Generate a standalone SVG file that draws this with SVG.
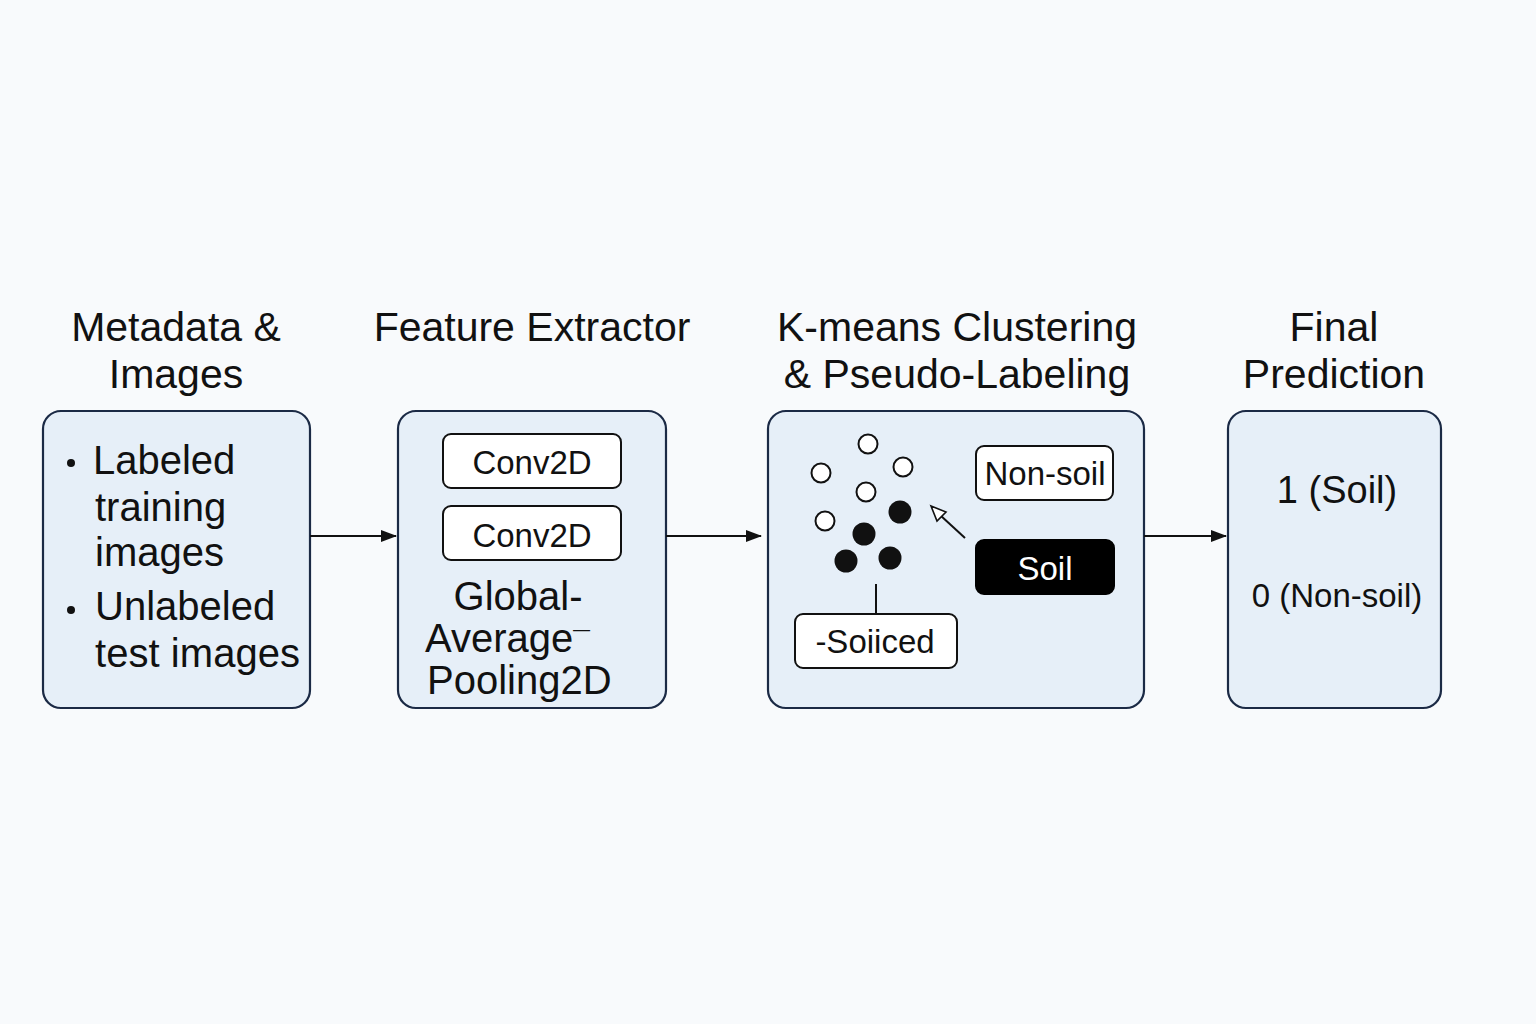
<svg xmlns="http://www.w3.org/2000/svg" width="1536" height="1024" viewBox="0 0 1536 1024">
<defs>
<marker id="arr" markerWidth="16" markerHeight="12" refX="15" refY="6" orient="auto" markerUnits="userSpaceOnUse">
<path d="M0,0 L16,6 L0,12 Z" fill="#111"/>
</marker>
<style>
.box{fill:#e6eff8;stroke:#1b2a45;stroke-width:2.2}
.sub{fill:#fff;stroke:#111;stroke-width:2}
.t{font-family:"Liberation Sans",Arial,sans-serif;fill:#111}
.title{font-size:41px;text-anchor:middle}
.body{font-size:40px}
.small{font-size:33px;text-anchor:middle}
.conn{stroke:#111;stroke-width:2;fill:none}
</style>
</defs>
<rect width="1536" height="1024" fill="#f8fafc"/>

<g id="titles">
<text class="t title" x="176" y="341">Metadata &amp;</text>
<text class="t title" x="176" y="388">Images</text>
<text class="t title" x="532" y="341">Feature Extractor</text>
<text class="t title" x="957" y="341">K-means Clustering</text>
<text class="t title" x="957" y="388">&amp; Pseudo-Labeling</text>
<text class="t title" x="1334" y="341">Final</text>
<text class="t title" x="1334" y="388">Prediction</text>
</g>

<g id="node-metadata">
<rect class="box" x="43" y="411" width="267" height="297" rx="18"/>
<circle cx="71" cy="463" r="4" fill="#111"/>
<circle cx="71" cy="610" r="4" fill="#111"/>
<text class="t body" x="93" y="474">Labeled</text>
<text class="t body" x="95" y="521">training</text>
<text class="t body" x="95" y="566">images</text>
<text class="t body" x="95" y="620">Unlabeled</text>
<text class="t body" x="95" y="667" textLength="205">test images</text>
</g>

<g id="node-feature">
<rect class="box" x="398" y="411" width="268" height="297" rx="18"/>
<rect class="sub" x="443" y="434" width="178" height="54" rx="8"/>
<text class="t small" x="532" y="474">Conv2D</text>
<rect class="sub" x="443" y="506" width="178" height="54" rx="8"/>
<text class="t small" x="532" y="547">Conv2D</text>
<text class="t body" x="518" y="610" text-anchor="middle">Global-</text>
<text class="t body" x="425" y="652">Average<tspan font-size="30">¯</tspan></text>
<text class="t body" x="427" y="694">Pooling2D</text>
</g>

<g id="node-kmeans">
<rect class="box" x="768" y="411" width="376" height="297" rx="18"/>
<g fill="#fff" stroke="#111" stroke-width="2">
<circle cx="868" cy="444" r="9.5"/>
<circle cx="821" cy="473" r="9.5"/>
<circle cx="903" cy="467" r="9.5"/>
<circle cx="866" cy="492" r="9.5"/>
<circle cx="825" cy="521" r="9.5"/>
</g>
<g fill="#111">
<circle cx="900" cy="512" r="11.5"/>
<circle cx="864" cy="534" r="11.5"/>
<circle cx="846" cy="561" r="11.5"/>
<circle cx="890" cy="558" r="11.5"/>
</g>
<rect class="sub" x="976" y="446" width="137" height="54" rx="8"/>
<text class="t small" x="1045" y="485">Non-soil</text>
<rect x="976" y="540" width="138" height="54" rx="8" fill="#000" stroke="#000" stroke-width="2"/>
<text class="t small" x="1045" y="580" style="fill:#fff">Soil</text>
<rect class="sub" x="795" y="614" width="162" height="54" rx="8"/>
<text class="t small" x="875" y="653">-Soiiced</text>
</g>

<g id="node-final">
<rect class="box" x="1228" y="411" width="213" height="297" rx="18"/>
<text class="t" x="1337" y="503" font-size="38" text-anchor="middle">1 (Soil)</text>
<text class="t small" x="1337" y="607">0 (Non-soil)</text>
</g>

<g id="connectors">
<line class="conn" x1="310" y1="536" x2="396" y2="536" marker-end="url(#arr)"/>
<line class="conn" x1="666" y1="536" x2="761" y2="536" marker-end="url(#arr)"/>
<line class="conn" x1="1144" y1="536" x2="1226" y2="536" marker-end="url(#arr)"/>
<line class="conn" x1="965" y1="538" x2="940" y2="515"/>
<path d="M931,506 L946,512 L937,521 Z" fill="#fff" stroke="#111" stroke-width="1.6"/>
<line class="conn" x1="876" y1="584" x2="876" y2="614"/>
</g>
</svg>
